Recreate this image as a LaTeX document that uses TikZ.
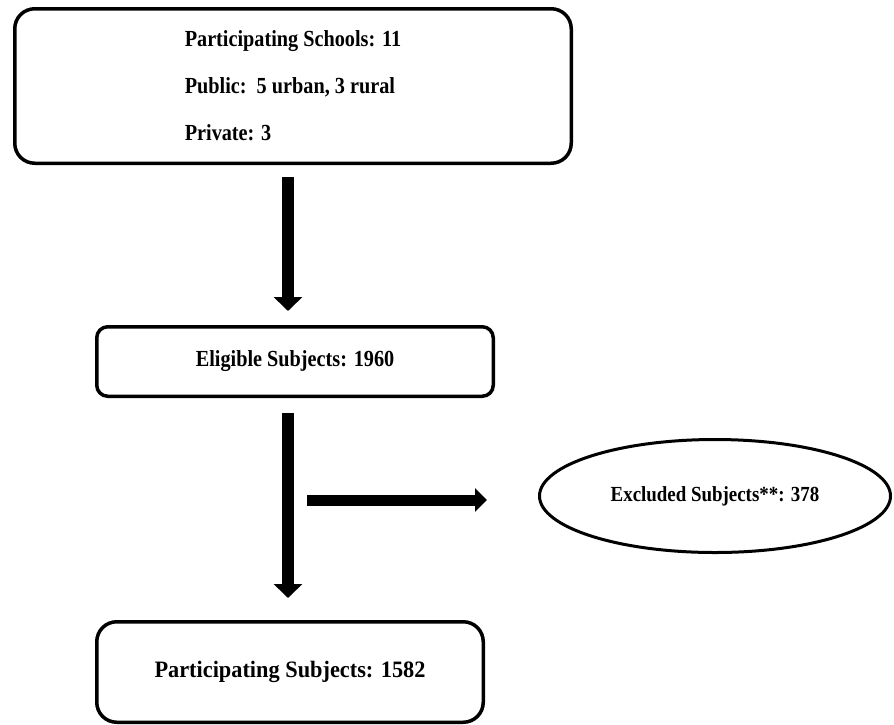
\documentclass[tikz,border=0pt]{standalone}
\usepackage{fontspec}
\setmainfont{Liberation Serif}
\newfontfamily\condfont[FakeStretch=0.88]{Liberation Serif}
\newfontfamily\semifont[FakeStretch=0.95]{Liberation Serif}
\usetikzlibrary{arrows.meta,shapes.geometric,calc}
\tikzset{
  box/.style={draw=black, line width=3.5pt, rounded corners=#1, inner sep=0pt},
  oval/.style={draw=black, ellipse, line width=3pt, inner sep=0pt},
  bigarrow/.style={line width=12.5pt, -{Triangle[width=28pt 0 0,length=14pt 0 0]}},
  sidearrow/.style={line width=11pt, -{Triangle[width=23pt 0 0,length=12pt 0 0]}}
}
\begin{document}
\begin{tikzpicture}[x=1pt,y=-1pt]
\useasboundingbox (0,0) rectangle (894,724);
\node[box=20pt, minimum width=556.5pt, minimum height=154.5pt, align=left,
      font={\condfont\bfseries\fontsize{23}{47}\selectfont}] (schools) at (293,86)
  {Participating Schools: 11\\Public:\ \ 5 urban, 3 rural\\Private: 3};
\node[box=11pt, minimum width=396.5pt, minimum height=69.5pt,
      font={\condfont\bfseries\fontsize{23}{26}\selectfont}] (eligible) at (295,361.5)
  {Eligible Subjects: 1960};
\node[box=20pt, minimum width=386.5pt, minimum height=100.5pt,
      font={\semifont\bfseries\fontsize{23.5}{27}\selectfont}] (partic) at (290,672)
  {Participating Subjects: 1582};
\node[oval, minimum width=351pt, minimum height=113pt,
      font={\condfont\bfseries\fontsize{21.5}{25}\selectfont}] (excl) at (715,496)
  {Excluded Subjects**: 378};
\coordinate (ax) at (288,0);
\coordinate (hs) at (307,500);
\draw[bigarrow, shorten <=12pt, shorten >=14pt] (schools.south -| ax) -- (eligible.north -| ax);
\draw[bigarrow, shorten <=15pt, shorten >=22pt] (eligible.south -| ax) -- (partic.north -| ax);
\draw[sidearrow, shorten >=51pt] (hs) -- (hs -| excl.west);
\end{tikzpicture}
\end{document}
